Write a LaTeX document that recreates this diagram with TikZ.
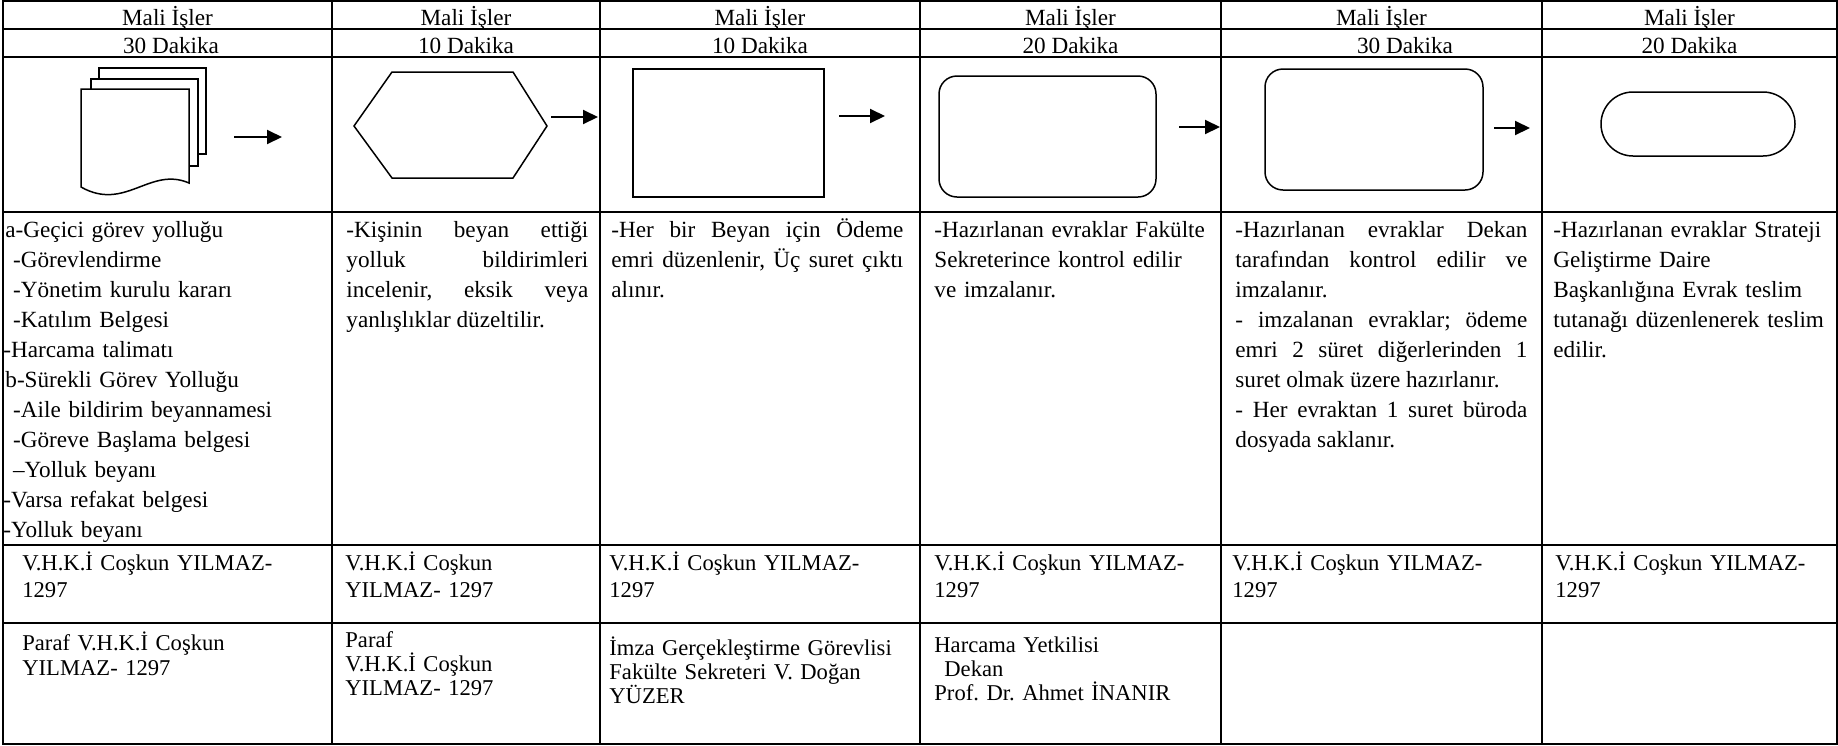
\documentclass[tikz,border=0pt]{standalone}
\usepackage{fontspec}
\setmainfont{Liberation Serif}
\usetikzlibrary{arrows.meta}
\frenchspacing

\tikzset{
  grid line/.style={line width=1pt},
  shape line/.style={line width=0.75pt, fill=white},
  flow arrow/.style={line width=1pt, -{Triangle[length=7.5pt,width=7pt]}},
  head/.style={anchor=base, inner sep=0pt, font=\fontsize{11.6}{14}\selectfont},
  desc/.style={anchor=north west, inner sep=0pt, font=\fontsize{11.6}{15}\selectfont,
    execute at begin node={\tolerance=10000\hyphenpenalty=10000\strut}},
  sign/.style={anchor=north west, inner sep=0pt, align=left, text width=148pt,
    font=\fontsize{11.3}{13.5}\selectfont, execute at begin node={\rule{0pt}{8pt}}},
}

\begin{document}
\begin{tikzpicture}[x=0.5pt,y=-0.5pt]
\useasboundingbox (0,0) rectangle (1838,745);

% table grid
\draw[grid line] (3,1) rectangle (1837,744);
\foreach \x in {332,600,920,1221,1542} \draw[grid line] (\x,1) -- (\x,744);
\foreach \y in {29,57,212,545,623} \draw[grid line] (3,\y) -- (1837,\y);

% header rows
\foreach \cx/\tx/\t [count=\i] in {167.5/171/30, 466/466/10, 760/760/10, 1070.5/1070.5/20, 1381.5/1405/30, 1689.5/1689.5/20} {
  \node[head] (unit\i) at (\cx,25.5) {Mali İşler};
  \node[head] (time\i) at (\tx,53.5) {\t\ Dakika};
}

% multi document
\draw[shape line] (99,68) rectangle (206,154);
\draw[shape line] (91,79) rectangle (198,166);
\draw[shape line] (81,89) -- (189,89) -- (189,183)
  .. controls (150,166) and (125,212) .. (81,187) -- cycle;

% preparation (hexagon)
\draw[shape line] (354,126) -- (392,72) -- (513,72) -- (547,126) -- (513,178) -- (392,178) -- cycle;

% process
\draw[shape line] (633,69) rectangle (824,197);

% alternate process
\draw[shape line, rounded corners=9pt] (939,76) rectangle (1156,197);
\draw[shape line, rounded corners=9pt] (1265,69) rectangle (1483,190);

% terminator
\draw[shape line, rounded corners=16pt] (1601,92) rectangle (1795,156);

% arrows
\coordinate (a1s) at (234,137); \coordinate (a1e) at (282,137);
\coordinate (a2s) at (551,117); \coordinate (a2e) at (598,117);
\coordinate (a3s) at (839,116); \coordinate (a3e) at (885,116);
\coordinate (a4s) at (1179,127); \coordinate (a4e) at (1220,127);
\coordinate (a5s) at (1494,128); \coordinate (a5e) at (1530,128);
\foreach \i in {1,...,5} \draw[flow arrow] (a\i s) -- (a\i e);

% descriptions
\node[desc, align=left, text width=160pt] (desc1) at (5,216) {a-Geçici görev yolluğu\\
  \ -Görevlendirme\\
  \ -Yönetim kurulu kararı\\
  \ -Katılım Belgesi\\
  \hspace*{-1pt}-Harcama talimatı\\
  b-Sürekli Görev Yolluğu\\
  \ -Aile bildirim beyannamesi\\
  \ -Göreve Başlama belgesi\\
  \ –Yolluk beyanı\\
  \hspace*{-1pt}-Varsa refakat belgesi\\
  \hspace*{-1pt}-Yolluk beyanı};
\node[desc, align=justify, text width=121pt] (desc2) at (346,216) {-Kişinin beyan ettiği\linebreak
  yolluk bildirimleri\linebreak incelenir, eksik veya\linebreak yanlışlıklar düzeltilir.};
\node[desc, align=justify, text width=146pt] (desc3) at (611,216) {-Her bir Beyan için Ödeme\linebreak
  emri düzenlenir, Üç suret çıktı\linebreak alınır.};
\node[desc, align=left, text width=140pt] (desc4) at (934,216) {-Hazırlanan evraklar Fakülte\\
  Sekreterince kontrol edilir\\ ve imzalanır.};
\node[desc, align=justify, text width=146pt] (desc5) at (1235,216) {-Hazırlanan evraklar Dekan\linebreak
  tarafından kontrol edilir ve\linebreak imzalanır.\\
  - imzalanan evraklar; ödeme\linebreak emri 2 süret diğerlerinden 1\linebreak
  suret olmak üzere hazırlanır.\\
  - Her evraktan 1 suret büroda\linebreak dosyada saklanır.};
\node[desc, align=left, text width=138pt] (desc6) at (1553,216) {-Hazırlanan evraklar Strateji\\
  Geliştirme Daire\\ Başkanlığına Evrak teslim\\ tutanağı düzenlenerek teslim\\ edilir.};

% staff row
\node[sign] (staff1) at (22,551) {V.H.K.İ Coşkun YILMAZ-\\1297};
\node[sign] (staff2) at (345,551) {V.H.K.İ Coşkun\\YILMAZ- 1297};
\foreach \sx [count=\i from 3] in {609,934,1232,1555}
  \node[sign, text width=135pt] (staff\i) at (\sx,551) {V.H.K.İ Coşkun YILMAZ-\\1297};

% approval row
\node[sign, font=\fontsize{11.3}{12.5}\selectfont] (check1) at (22,631) {Paraf V.H.K.İ Coşkun\\YILMAZ- 1297};
\node[sign, font=\fontsize{11.3}{12}\selectfont] (check2) at (345,631) {Paraf\\V.H.K.İ Coşkun\\YILMAZ- 1297};
\node[sign, font=\fontsize{11.3}{12}\selectfont] (check3) at (609,636) {İmza Gerçekleştirme Görevlisi\\
  Fakülte Sekreteri V. Doğan\\YÜZER};
\node[sign, font=\fontsize{11.3}{12}\selectfont] (check4) at (934,636) {Harcama Yetkilisi\\
  \hspace*{5pt}Dekan\\Prof. Dr. Ahmet İNANIR};
\end{tikzpicture}
\end{document}
